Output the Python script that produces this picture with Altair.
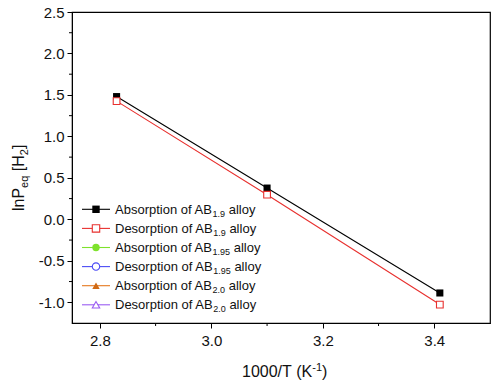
import altair as alt
import pandas as pd

# ---------------- data ----------------
inv_T = [2.83, 3.10, 3.41]
abs_AB19 = [1.48, 0.377, -0.888]
des_AB19 = [1.425, 0.297, -1.028]

legend_main = ["Absorption of AB", "Desorption of AB", "Absorption of AB",
               "Desorption of AB", "Absorption of AB", "Desorption of AB"]
legend_sub = ["1.9", "1.9", "1.95", "1.95", "2.0", "2.0"]
legend_colors = ["#000000", "#e8302e", "#7ee22c", "#4c4cf5", "#e6781e", "#9a5cf2"]
legend_marker_colors = ["#000000", "#e8302e", "#7ee22c", "#4c4cf5", "#d06a14", "#9a5cf2"]
legend_shapes = ["square", "square", "circle", "circle", "triangle-up", "triangle-up"]
legend_filled = [True, False, True, False, True, False]

x_major = [2.8, 3.0, 3.2, 3.4]
x_minor = [2.9, 3.1, 3.3]
y_major = [-1.0, -0.5, 0.0, 0.5, 1.0, 1.5, 2.0, 2.5]
y_minor = [-0.75, -0.25, 0.25, 0.75, 1.25, 1.75, 2.25]

W, H = 418, 311
FONT = "Liberation Sans"
NB = "\u00a0"

AW = {' ': 278, NB: 278, 'A': 667, 'B': 667, 'D': 722, 'H': 722, 'K': 667, 'P': 667, 'T': 611,
      'a': 556, 'b': 556, 'e': 556, 'f': 278, 'i': 222, 'l': 222, 'n': 556, 'o': 556,
      'p': 556, 'q': 556, 'r': 333, 's': 500, 't': 278, 'y': 500, '.': 278, '/': 278,
      '(': 333, ')': 333, '[': 278, ']': 278, '-': 333}
for d in "0123456789":
    AW[d] = 556


def tw(s, fs):
    return sum(AW.get(c, 556) for c in s) * fs / 1000.0


# ---------------- main data ----------------
df = pd.DataFrame({
    "T": inv_T * 2,
    "lnP": abs_AB19 + des_AB19,
    "series": ["abs"] * 3 + ["des"] * 3,
})

xs = alt.Scale(domain=[2.75, 3.5], nice=False, zero=False)
ys = alt.Scale(domain=[-1.25, 2.5], nice=False, zero=False)

x_axis = alt.Axis(
    values=x_major, format=".1f", title=None, grid=False, tickSize=5,
    labelFontSize=15, labelFont=FONT, labelColor="#111", labelPadding=5,
    domainColor="#000", tickColor="#000", labelFlush=False)
y_axis = alt.Axis(
    values=y_major, title=None, grid=False, tickSize=5,
    labelExpr="datum.value < 0 ? '-' + format(-datum.value, '.1f') : format(datum.value, '.1f')",
    labelFontSize=15, labelFont=FONT, labelColor="#111", labelPadding=3,
    domainColor="#000", tickColor="#000", labelFlush=False)


def xe():
    return alt.X("T:Q", scale=xs, axis=x_axis)


def ye():
    return alt.Y("lnP:Q", scale=ys, axis=y_axis)


color_enc = alt.Color("series:N", scale=alt.Scale(domain=["abs", "des"], range=["#000000", "#e8302e"]), legend=None)

lines = alt.Chart(df).mark_line(strokeWidth=1.1).encode(x=xe(), y=ye(), color=color_enc)
pts_abs = alt.Chart(df).transform_filter("datum.series == 'abs'").mark_point(
    shape="square", filled=True, size=50, color="#000000", opacity=1).encode(x=xe(), y=ye())
pts_des = alt.Chart(df).transform_filter("datum.series == 'des'").mark_point(
    shape="square", filled=False, fill="white", fillOpacity=1, size=45, stroke="#e8302e",
    strokeWidth=1.1, opacity=1).encode(x=xe(), y=ye())

# minor ticks
xminor_df = pd.DataFrame({"T": x_minor})
yminor_df = pd.DataFrame({"lnP": y_minor})
xminor = alt.Chart(xminor_df).mark_rule(color="#000", strokeWidth=1).encode(
    x=xe(), y=alt.value(H), y2=alt.value(H + 3))
yminor = alt.Chart(yminor_df).mark_rule(color="#000", strokeWidth=1).encode(
    y=ye(), x=alt.value(-3), x2=alt.value(0))

# ---------------- legend ----------------
sym_rows, txt_rows = [], []
for i in range(6):
    yc = 197.3 + 19.1 * i
    sym_rows.append({"x1": 10, "x2": 38, "xm": 24, "y": yc, "col": legend_colors[i],
                     "mcol": legend_marker_colors[i], "shape": legend_shapes[i],
                     "filled": legend_filled[i]})
    base = yc + 4.6
    x0 = 43
    txt_rows.append({"x": x0, "y": base, "t": legend_main[i], "fs": 13, "a": 0})
    xs2 = x0 + tw(legend_main[i], 13)
    txt_rows.append({"x": xs2, "y": base + 3, "t": legend_sub[i], "fs": 9, "a": 0})
    xs3 = xs2 + tw(legend_sub[i], 9) + tw(" ", 13)
    txt_rows.append({"x": xs3, "y": base, "t": "alloy", "fs": 13, "a": 0})

sym_df = pd.DataFrame(sym_rows)
leg_lines = alt.Chart(sym_df).mark_rule(strokeWidth=1.1).encode(
    x=alt.X("x1:Q", scale=None), x2="x2:Q", y=alt.Y("y:Q", scale=None),
    color=alt.Color("col:N", scale=None))
leg_filled = alt.Chart(sym_df).transform_filter("datum.filled").mark_point(
    filled=True, size=55, opacity=1).encode(
    x=alt.X("xm:Q", scale=None), y=alt.Y("y:Q", scale=None),
    color=alt.Color("mcol:N", scale=None), shape=alt.Shape("shape:N", scale=None))
leg_open = alt.Chart(sym_df).transform_filter("!datum.filled").mark_point(
    filled=False, fill="white", fillOpacity=1, size=55, strokeWidth=1.1, opacity=1).encode(
    x=alt.X("xm:Q", scale=None), y=alt.Y("y:Q", scale=None),
    stroke=alt.Stroke("mcol:N", scale=None), shape=alt.Shape("shape:N", scale=None))

# ---------------- axis titles ----------------
xt_x0, xt_base = 170, 365
xt1 = "1000/T" + NB + "(K"
txt_rows.append({"x": xt_x0, "y": xt_base, "t": xt1, "fs": 16, "a": 0})
sx = xt_x0 + tw(xt1, 16)
txt_rows.append({"x": sx, "y": xt_base - 6, "t": "-1", "fs": 11, "a": 0})
txt_rows.append({"x": sx + tw("-1", 11), "y": xt_base, "t": ")", "fs": 16, "a": 0})

# y title pieces: (text, font size, baseline shift, gap before)
yb, ystart = -48, 199
pieces = [("lnP", 16, 0, 0), ("eq", 11, 3.5, 0), ("[H", 16, 0, tw(" ", 16)),
          ("2", 11, 3.5, 0), ("]", 16, 0, 0)]
cur = ystart
for s, fs, sh, gap in pieces:
    cur -= gap
    txt_rows.append({"x": yb + sh, "y": cur, "t": s, "fs": fs, "a": 270})
    cur -= tw(s, fs)

txt_df = pd.DataFrame(txt_rows)
texts = alt.Chart(txt_df).mark_text(align="left", baseline="alphabetic", font=FONT,
                                    color="#111").encode(
    x=alt.X("x:Q", scale=None), y=alt.Y("y:Q", scale=None),
    text="t:N", size=alt.Size("fs:Q", scale=None), angle=alt.Angle("a:Q", scale=None))

chart = alt.layer(
    lines, pts_abs, pts_des, xminor, yminor, leg_lines, leg_filled, leg_open, texts
).properties(
    width=W, height=H,
    autosize=alt.AutoSizeParams(type="none"),
    padding={"left": 72, "top": 12, "right": 2, "bottom": 61},
    background="white",
).configure_view(stroke="#000", strokeWidth=1.2)

chart.save("out.html", embed_options={"renderer": "svg", "actions": False})
